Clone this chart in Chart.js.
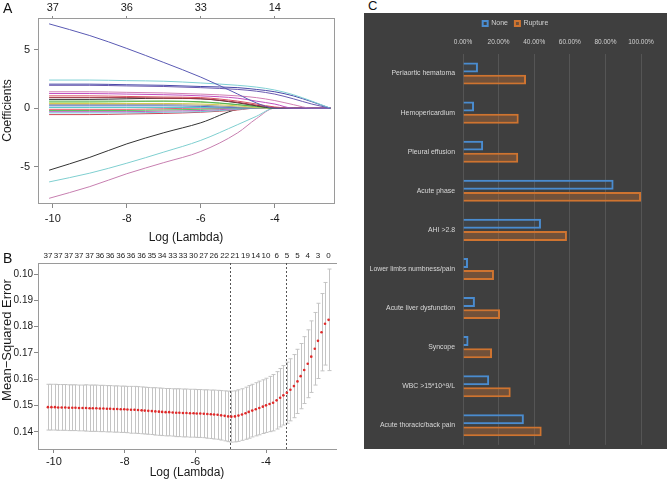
<!DOCTYPE html>
<html>
<head>
<meta charset="utf-8">
<script src="https://cdn.jsdelivr.net/npm/chart.js@4.4.1/dist/chart.umd.min.js"></script>
<style>
  body { margin: 0; background: #fff; }
  #wrap { position: relative; width: 667px; height: 480px; overflow: hidden; }
  canvas { position: absolute; }
  .tag { position: absolute; font-family: 'Liberation Sans', Arial, sans-serif; color: #111; }
</style>
</head>
<body>
<div id="wrap">
  <canvas id="chartA" width="340" height="246" style="left:0;top:0"></canvas>
  <canvas id="chartB" width="340" height="234" style="left:0;top:246px"></canvas>
  <canvas id="chartC" width="303" height="436" style="left:364px;top:13px;background:#3f3f3f"></canvas>
  <div class="tag" style="left:3px;top:0px;font-size:14px">A</div>
  <div class="tag" style="left:3px;top:250px;font-size:14px">B</div>
  <div class="tag" style="left:368px;top:-2px;font-size:13px">C</div>
</div>
<script>
// ---------- panel A: coefficient paths ----------
const lambdaA = [-10.1, -9, -8, -7, -6, -5, -4.5, -4, -3.5, -3, -2.5];
const xTicksA = [-10, -8, -6, -4];
const topCountsA = ['37', '36', '33', '14'];
const yTicksA = [-5, 0, 5];
const coefPaths = [
  [7.2, 6.2, 5.1, 3.9, 2.65, 1.2, 0.45, 0, 0, 0, 0],
  [2.4, 2.4, 2.35, 2.3, 2.15, 1.95, 1.8, 1.55, 1.15, 0.6, 0],
  [2.05, 2.05, 2.0, 1.95, 1.85, 1.75, 1.6, 1.4, 1.05, 0.55, 0],
  [1.95, 1.95, 1.9, 1.85, 1.75, 1.6, 1.45, 1.2, 0.8, 0.35, 0],
  [1.4, 1.4, 1.35, 1.3, 1.2, 1.05, 0.9, 0.65, 0.3, 0, 0],
  [1.25, 1.25, 1.2, 1.15, 1.05, 0.85, 0.6, 0.35, 0, 0, 0],
  [1.05, 1.05, 1.0, 0.95, 0.9, 0.6, 0.35, 0.1, 0, 0, 0],
  [0.9, 0.9, 0.9, 0.85, 0.8, 0.5, 0.25, 0.05, 0, 0, 0],
  [0.75, 0.75, 0.8, 0.85, 0.8, 0.45, 0.2, 0, 0, 0, 0],
  [0.6, 0.6, 0.6, 0.6, 0.55, 0.3, 0.15, 0, 0, 0, 0],
  [0.5, 0.5, 0.55, 0.6, 0.5, 0.3, 0.1, 0, 0, 0, 0],
  [0.4, 0.4, 0.4, 0.4, 0.35, 0.2, 0.05, 0, 0, 0, 0],
  [0.3, 0.3, 0.3, 0.3, 0.25, 0.1, 0, 0, 0, 0, 0],
  [0.2, 0.2, 0.2, 0.2, 0.15, 0.05, 0, 0, 0, 0, 0],
  [0.05, 0.05, 0.05, 0.05, 0.05, 0, 0, 0, 0, 0, 0],
  [-0.1, -0.1, -0.1, -0.05, 0, 0, 0, 0, 0, 0, 0],
  [-0.2, -0.2, -0.2, -0.15, -0.1, 0, 0, 0, 0, 0, 0],
  [-0.3, -0.3, -0.3, -0.25, -0.2, -0.05, 0, 0, 0, 0, 0],
  [-0.4, -0.4, -0.4, -0.35, -0.3, -0.1, 0, 0, 0, 0, 0],
  [-0.55, -0.55, -0.5, -0.45, -0.35, -0.15, 0, 0, 0, 0, 0],
  [-5.3, -4.2, -3.05, -2.1, -1.25, -0.1, 0, 0, 0, 0, 0],
  [-6.3, -5.55, -4.7, -3.75, -2.75, -1.4, -0.7, 0, 0, 0, 0],
  [-7.7, -6.7, -5.6, -4.65, -3.7, -2.1, -0.9, 0, 0, 0, 0]
];
const pathColors = [
  '#5a5ab4', '#7fd0d4', '#4a4aa8', '#6a5ab0', '#d27fb4', '#c050c0', '#d85060', '#a03040',
  '#333333', '#50b050', '#9ad870', '#d8c850', '#999999', '#4a70c8', '#50c8c8', '#e06070',
  '#60c060', '#c060c0', '#70c8d8', '#d04858', '#333333', '#7fcfd0', '#c77fb0'
];

// ---------- panel B: cross-validation curve ----------
const logLambda = [
  -10.17, -10.07, -9.97, -9.88, -9.78, -9.68, -9.58, -9.48, -9.39, -9.29,
  -9.19, -9.09, -8.99, -8.90, -8.80, -8.70, -8.60, -8.50, -8.41, -8.31,
  -8.21, -8.11, -8.01, -7.92, -7.82, -7.72, -7.62, -7.52, -7.43, -7.33,
  -7.23, -7.13, -7.03, -6.94, -6.84, -6.74, -6.64, -6.54, -6.45, -6.35,
  -6.25, -6.15, -6.05, -5.96, -5.86, -5.76, -5.66, -5.56, -5.47, -5.37,
  -5.27, -5.17, -5.07, -4.98, -4.88, -4.78, -4.68, -4.58, -4.49, -4.39,
  -4.29, -4.19, -4.09, -4.00, -3.90, -3.80, -3.70, -3.60, -3.51, -3.41,
  -3.31, -3.21, -3.11, -3.02, -2.92, -2.82, -2.72, -2.62, -2.53, -2.43,
  -2.33, -2.23
];
const mse = [
  0.1494, 0.1494, 0.1494, 0.1493, 0.1493, 0.1493, 0.1492, 0.1492, 0.1492, 0.1491,
  0.1491, 0.1491, 0.1490, 0.1490, 0.1490, 0.1489, 0.1489, 0.1488, 0.1488, 0.1487,
  0.1487, 0.1486, 0.1486, 0.1485, 0.1484, 0.1484, 0.1483, 0.1482, 0.1481, 0.1480,
  0.1479, 0.1478, 0.1477, 0.1476, 0.1475, 0.1475, 0.1474, 0.1473, 0.1473, 0.1472,
  0.1472, 0.1471, 0.1471, 0.1470, 0.1470, 0.1469, 0.1468, 0.1467, 0.1466, 0.1465,
  0.1463, 0.1461, 0.1459, 0.1458, 0.1459, 0.1462, 0.1466, 0.1471, 0.1476, 0.1481,
  0.1486, 0.1491, 0.1496, 0.1501, 0.1506, 0.1511, 0.1520, 0.1530, 0.1539, 0.1549,
  0.1560, 0.1574, 0.1592, 0.1612, 0.1635, 0.1659, 0.1686, 0.1716, 0.1746, 0.1779,
  0.1811, 0.1826
];
const mseSd = [
  0.0087, 0.0087, 0.0087, 0.0087, 0.0087, 0.0087, 0.0087, 0.0087, 0.0087, 0.0087,
  0.0087, 0.0088, 0.0088, 0.0088, 0.0088, 0.0088, 0.0088, 0.0088, 0.0088, 0.0088,
  0.0088, 0.0088, 0.0088, 0.0088, 0.0089, 0.0089, 0.0089, 0.0089, 0.0089, 0.0089,
  0.0089, 0.0090, 0.0090, 0.0090, 0.0090, 0.0090, 0.0090, 0.0091, 0.0091, 0.0091,
  0.0091, 0.0091, 0.0091, 0.0091, 0.0091, 0.0091, 0.0092, 0.0092, 0.0093, 0.0093,
  0.0094, 0.0095, 0.0096, 0.0097, 0.0097, 0.0098, 0.0098, 0.0099, 0.0100, 0.0100,
  0.0101, 0.0102, 0.0102, 0.0103, 0.0105, 0.0107, 0.0109, 0.0111, 0.0113, 0.0116,
  0.0118, 0.0120, 0.0122, 0.0124, 0.0127, 0.0129, 0.0136, 0.0138, 0.0143, 0.0147,
  0.0157, 0.0193
];
const nzeroLabels = ['37', '37', '37', '37', '37', '36', '36', '36', '36', '36', '35', '34', '33', '33',
  '30', '27', '26', '22', '21', '19', '14', '10', '6', '5', '5', '4', '3', '0'];
const xTicksB = [-10, -8, -6, -4];
const yTicksB = [0.14, 0.15, 0.16, 0.17, 0.18, 0.19, 0.20];
const yTickLabelsB = ['0.14', '0.15', '0.16', '0.17', '0.18', '0.19', '0.10'];
const lambdaMin = -5.03;
const lambda1se = -3.44;

// ---------- panel C: bars ----------
const features = ['Periaortic hematoma', 'Hemopericardium', 'Pleural effusion', 'Acute phase', 'AHI >2.8',
  'Lower limbs numbness/pain', 'Acute liver dysfunction', 'Syncope', 'WBC >15*10^9/L', 'Acute thoracic/back pain'];
const nonePct = [8.4, 6.2, 11.3, 84.6, 43.8, 2.8, 6.7, 3.1, 14.7, 34.2];
const rupturePct = [35.4, 31.3, 31.0, 100, 58.4, 17.4, 20.8, 16.3, 26.8, 44.2];

Chart.defaults.font.family = "'Liberation Sans', Arial, sans-serif";
Chart.defaults.color = '#1a1a1a';

const boxPlugin = {
  id: 'box',
  afterDraw(chart) {
    const { ctx, chartArea: a } = chart;
    ctx.save();
    ctx.strokeStyle = '#9a9a9a';
    ctx.lineWidth = 1;
    ctx.strokeRect(Math.round(a.left) + 0.5, Math.round(a.top) + 0.5, Math.round(a.right - a.left), Math.round(a.bottom - a.top));
    ctx.restore();
  }
};

new Chart(document.getElementById('chartA'), {
  type: 'line',
  data: {
    datasets: coefPaths.map((p, i) => ({
      data: p.map((v, k) => ({ x: lambdaA[k], y: v })),
      borderColor: pathColors[i],
      borderWidth: 1,
      pointRadius: 0,
      cubicInterpolationMode: 'monotone',
      fill: false
    }))
  },
  options: {
    responsive: false,
    animation: false,
    devicePixelRatio: 1,
    layout: { padding: { right: 6 } },
    plugins: { legend: { display: false }, tooltip: { enabled: false } },
    scales: {
      x: {
        type: 'linear', min: -10.4, max: -2.4,
        afterBuildTicks: s => { s.ticks = xTicksA.map(v => ({ value: v })); },
        afterFit: s => { s.height = 43; },
        ticks: { font: { size: 11 }, padding: 4, maxRotation: 0, callback: v => v },
        grid: { drawOnChartArea: false, tickLength: 5, color: '#888' },
        border: { display: false },
        title: { display: true, text: 'Log (Lambda)', font: { size: 12 }, padding: { top: 0, bottom: 1 } }
      },
      xTop: {
        axis: 'x', type: 'linear', position: 'top', min: -10.4, max: -2.4,
        afterBuildTicks: s => { s.ticks = xTicksA.map(v => ({ value: v })); },
        afterFit: s => { s.height = 18; },
        ticks: { font: { size: 11 }, padding: 1, maxRotation: 0, callback: (v, i) => topCountsA[i] },
        grid: { drawOnChartArea: false, tickLength: 2, color: '#888' },
        border: { display: false }
      },
      y: {
        min: -8.1, max: 7.7,
        afterBuildTicks: s => { s.ticks = yTicksA.map(v => ({ value: v })); },
        afterFit: s => { s.width = 38; },
        ticks: { font: { size: 11 }, padding: 4 },
        grid: { drawOnChartArea: false, tickLength: 4, color: '#888' },
        border: { display: false },
        title: { display: true, text: 'Coefficients', font: { size: 12 }, padding: { top: 0, bottom: 0 } }
      }
    }
  },
  plugins: [boxPlugin]
});

const errorBars = {
  id: 'errorBars',
  beforeDatasetsDraw(chart) {
    const { ctx, chartArea: a, scales: { x, y } } = chart;
    ctx.save();
    ctx.strokeStyle = '#c4c4c4';
    ctx.lineWidth = 1;
    ctx.beginPath();
    logLambda.forEach((l, i) => {
      const px = Math.round(x.getPixelForValue(l)) + 0.5;
      const top = y.getPixelForValue(mse[i] + mseSd[i]);
      const bot = y.getPixelForValue(mse[i] - mseSd[i]);
      ctx.moveTo(px, top); ctx.lineTo(px, bot);
      ctx.moveTo(px - 2, top); ctx.lineTo(px + 2, top);
      ctx.moveTo(px - 2, bot); ctx.lineTo(px + 2, bot);
    });
    ctx.stroke();
    ctx.strokeStyle = '#555';
    ctx.setLineDash([2, 2]);
    ctx.beginPath();
    [lambdaMin, lambda1se].forEach(l => {
      const px = Math.round(x.getPixelForValue(l)) + 0.5;
      ctx.moveTo(px, a.top); ctx.lineTo(px, a.bottom);
    });
    ctx.stroke();
    ctx.restore();
  },
  afterDraw(chart) {
    // y title sits a little above centre in the source figure
    const { ctx } = chart;
    ctx.save();
    ctx.translate(7, 94);
    ctx.rotate(-Math.PI / 2);
    ctx.font = "13px 'Liberation Sans', Arial, sans-serif";
    ctx.fillStyle = '#1a1a1a';
    ctx.textAlign = 'center';
    ctx.textBaseline = 'middle';
    ctx.fillText('Mean\u2212Squared Error', 0, 0);
    ctx.restore();
  }
};

new Chart(document.getElementById('chartB'), {
  type: 'scatter',
  data: {
    datasets: [{
      data: logLambda.map((l, i) => ({ x: l, y: mse[i] })),
      backgroundColor: '#e02a2a',
      borderWidth: 0,
      pointRadius: 1.3
    }]
  },
  options: {
    responsive: false,
    animation: false,
    devicePixelRatio: 1,
    layout: { padding: { right: 4 } },
    plugins: { legend: { display: false }, tooltip: { enabled: false } },
    scales: {
      x: {
        type: 'linear', min: -10.45, max: -2.02,
        afterBuildTicks: s => { s.ticks = xTicksB.map(v => ({ value: v })); },
        afterFit: s => { s.height = 31; },
        ticks: { font: { size: 11 }, padding: 2, maxRotation: 0, callback: v => v },
        grid: { drawOnChartArea: false, tickLength: 4, color: '#888' },
        border: { display: true, color: '#9a9a9a' },
        title: { display: true, text: 'Log (Lambda)', font: { size: 12 }, padding: { top: 0, bottom: 0 } }
      },
      xTop: {
        axis: 'x', type: 'linear', position: 'top', min: -10.45, max: -2.02,
        afterBuildTicks: s => { s.ticks = nzeroLabels.map((_, k) => ({ value: logLambda[k * 3] })); },
        afterFit: s => { s.height = 17; },
        ticks: { font: { size: 8 }, padding: 2, maxRotation: 0, autoSkip: false, callback: (v, i) => nzeroLabels[i] },
        grid: { display: false, drawTicks: false, tickLength: 0 },
        border: { display: true, color: '#9a9a9a' }
      },
      y: {
        min: 0.1335, max: 0.2042,
        afterBuildTicks: s => { s.ticks = yTicksB.map(v => ({ value: v })); },
        afterFit: s => { s.width = 38; },
        ticks: { font: { size: 10 }, padding: 1, callback: (v, i) => yTickLabelsB[i] },
        grid: { drawOnChartArea: false, tickLength: 4, color: '#888' },
        border: { display: true, color: '#9a9a9a' }
      }
    }
  },
  plugins: [errorBars]
});

new Chart(document.getElementById('chartC'), {
  type: 'bar',
  data: {
    labels: features,
    datasets: [
      { label: 'None', data: nonePct, borderColor: '#4a8cd0', backgroundColor: 'rgba(74,140,208,0.06)', borderWidth: 2 },
      { label: 'Rupture', data: rupturePct, borderColor: '#cf7430', backgroundColor: 'rgba(207,116,48,0.35)', borderWidth: 2 }
    ]
  },
  options: {
    indexAxis: 'y',
    responsive: false,
    animation: false,
    devicePixelRatio: 1,
    layout: { padding: 0 },
    datasets: { bar: { categoryPercentage: 0.62, barPercentage: 0.82 } },
    plugins: {
      legend: {
        position: 'top',
        labels: { color: '#d0d0d0', font: { size: 7 }, boxWidth: 5, boxHeight: 5, padding: 7 }
      },
      tooltip: { enabled: false }
    },
    scales: {
      x: {
        position: 'top', min: 0, max: 100,
        afterFit: s => { s.height = 17; },
        ticks: { stepSize: 20, color: '#d0d0d0', font: { size: 6.5 }, padding: 8, maxRotation: 0, minRotation: 0, autoSkip: false, callback: v => v.toFixed(2) + '%' },
        grid: { color: '#555', drawTicks: false },
        border: { display: false }
      },
      y: {
        afterFit: s => { s.width = 99; },
        ticks: { color: '#d8d8d8', font: { size: 6.9 }, padding: 0 },
        grid: { display: false, drawTicks: true, tickLength: 8 },
        border: { display: false }
      },
      yRight: {
        axis: 'y', type: 'linear', position: 'right', min: 0, max: 1,
        afterFit: s => { s.width = 26; },
        ticks: { display: false },
        grid: { display: false, drawTicks: false },
        border: { display: false }
      }
    }
  }
});
</script>
</body>
</html>
